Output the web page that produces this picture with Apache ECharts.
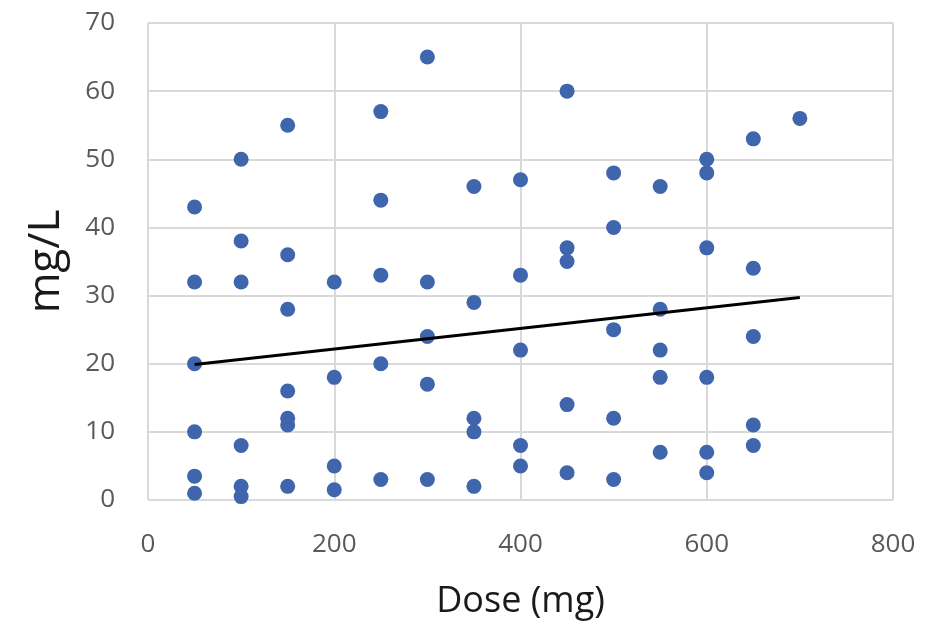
<!DOCTYPE html>
<html>
<head>
<meta charset="utf-8">
<script src="https://cdn.jsdelivr.net/npm/echarts@6/dist/echarts.min.js"></script>
<style>
  html, body { margin: 0; padding: 0; background: #ffffff; }
  #chart { width: 941px; height: 626px; }
</style>
</head>
<body>
<div id="chart"></div>
<script>
  // dose (mg) of each point
  var doses = [
    50, 50, 50, 50, 50, 50,
    100, 100, 100, 100, 100, 100,
    150, 150, 150, 150, 150, 150, 150,
    200, 200, 200, 200,
    250, 250, 250, 250, 250,
    300, 300, 300, 300, 300,
    350, 350, 350, 350, 350,
    400, 400, 400, 400, 400,
    450, 450, 450, 450, 450,
    500, 500, 500, 500, 500,
    550, 550, 550, 550, 550,
    600, 600, 600, 600, 600, 600,
    650, 650, 650, 650, 650,
    700
  ];
  // concentration (mg/L) of each point
  var levels = [
    43, 32, 20, 10, 3.5, 1,
    50, 38, 32, 8, 2, 0.5,
    55, 36, 28, 16, 12, 11, 2,
    32, 18, 5, 1.5,
    57, 44, 33, 20, 3,
    65, 32, 24, 17, 3,
    46, 29, 12, 10, 2,
    47, 33, 22, 8, 5,
    60, 37, 35, 14, 4,
    48, 40, 25, 12, 3,
    46, 28, 22, 18, 7,
    50, 48, 37, 18, 7, 4,
    53, 34, 24, 11, 8,
    56
  ];
  // trend line end points
  var trendX = [50, 700];
  var trendY = [19.9, 29.7];

  var points = doses.map(function (d, i) { return [d, levels[i]]; });
  var trend = trendX.map(function (d, i) { return [d, trendY[i]]; });

  var myChart = echarts.init(document.getElementById('chart'));
  myChart.setOption({
    animation: false,
    grid: { left: 148, right: 48, top: 23, bottom: 126 },
    xAxis: {
      type: 'value',
      min: 0,
      max: 800,
      interval: 200,
      name: 'Dose (mg)',
      nameLocation: 'middle',
      nameGap: 84,
      nameTextStyle: { fontFamily: 'Open Sans', fontSize: 36, color: '#1a1a1a' },
      axisLine: { show: false },
      axisTick: { show: false },
      axisLabel: { fontFamily: 'Open Sans', fontSize: 26, color: '#595959', margin: 32 },
      splitLine: { show: true, lineStyle: { color: '#d9d9d9', width: 2 } }
    },
    yAxis: {
      type: 'value',
      min: 0,
      max: 70,
      interval: 10,
      name: 'mg/L',
      nameLocation: 'middle',
      nameGap: 80,
      nameRotate: 90,
      nameTextStyle: { fontFamily: 'Open Sans', fontSize: 44, color: '#1a1a1a' },
      axisLine: { show: false },
      axisTick: { show: false },
      axisLabel: { fontFamily: 'Open Sans', fontSize: 26, color: '#595959', margin: 33 },
      splitLine: { show: true, lineStyle: { color: '#d9d9d9', width: 2 } }
    },
    series: [
      {
        type: 'scatter',
        data: points,
        symbolSize: 15,
        itemStyle: { color: '#3f65ad', opacity: 1 }
      },
      {
        type: 'line',
        data: trend,
        symbol: 'none',
        lineStyle: { color: '#000000', width: 3 },
        z: 3
      }
    ]
  });
</script>
</body>
</html>
